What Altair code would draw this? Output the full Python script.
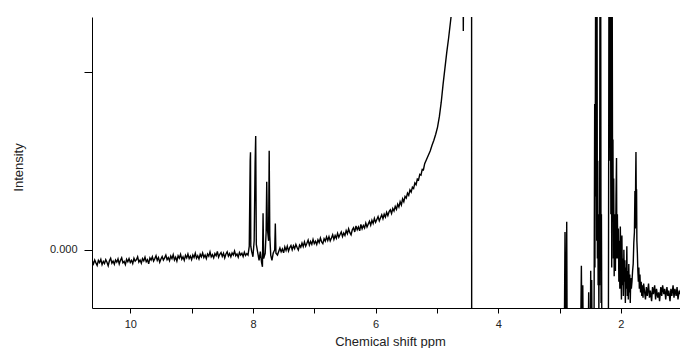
import altair as alt
import pandas as pd

# ---- data (ppm, intensity; 0 at the 0.000 tick, 1 at the upper tick) ----
left_ppm = [10.62, 10.60, 10.58, 10.56, 10.54, 10.52, 10.50, 10.48, 10.46, 10.44,
            10.42, 10.40, 10.38, 10.36, 10.34, 10.32, 10.30, 10.28, 10.26, 10.24,
            10.22, 10.20, 10.18, 10.16, 10.14, 10.12, 10.10, 10.08, 10.06, 10.04,
            10.02, 10.00, 9.98, 9.96, 9.94, 9.92, 9.90, 9.88, 9.86, 9.84,
            9.82, 9.80, 9.78, 9.76, 9.74, 9.72, 9.70, 9.68, 9.66, 9.64,
            9.62, 9.60, 9.58, 9.56, 9.54, 9.52, 9.50, 9.48, 9.46, 9.44,
            9.42, 9.40, 9.38, 9.36, 9.34, 9.32, 9.30, 9.28, 9.26, 9.24,
            9.22, 9.20, 9.18, 9.16, 9.14, 9.12, 9.10, 9.08, 9.06, 9.04,
            9.02, 9.00, 8.98, 8.96, 8.94, 8.92, 8.90, 8.88, 8.86, 8.84,
            8.82, 8.80, 8.78, 8.76, 8.74, 8.72, 8.70, 8.68, 8.66, 8.64,
            8.62, 8.60, 8.58, 8.56, 8.54, 8.52, 8.50, 8.48, 8.46, 8.44,
            8.42, 8.40, 8.38, 8.36, 8.34, 8.32, 8.30, 8.28, 8.26, 8.24,
            8.22, 8.20, 8.18, 8.16, 8.14, 8.12, 8.10, 8.08]
left_int = [-0.062, -0.080, -0.058, -0.074, -0.088, -0.060, -0.072, -0.054, -0.084, -0.066,
            -0.078, -0.056, -0.070, -0.090, -0.062, -0.048, -0.076, -0.064, -0.082, -0.058,
            -0.070, -0.052, -0.080, -0.060, -0.046, -0.074, -0.066, -0.084, -0.054, -0.068,
            -0.050, -0.072, -0.060, -0.078, -0.048, -0.064, -0.056, -0.040, -0.070, -0.058,
            -0.076, -0.050, -0.062, -0.042, -0.068, -0.056, -0.080, -0.046, -0.058, -0.040,
            -0.064, -0.050, -0.034, -0.060, -0.044, -0.070, -0.052, -0.038, -0.058, -0.046,
            -0.030, -0.056, -0.044, -0.062, -0.036, -0.050, -0.028, -0.058, -0.042, -0.064,
            -0.034, -0.048, -0.026, -0.054, -0.040, -0.060, -0.032, -0.046, -0.024, -0.050,
            -0.036, -0.056, -0.030, -0.044, -0.020, -0.048, -0.034, -0.052, -0.026, -0.040,
            -0.018, -0.044, -0.030, -0.050, -0.024, -0.036, -0.012, -0.040, -0.028, -0.046,
            -0.022, -0.034, -0.010, -0.042, -0.026, -0.016, -0.038, -0.020, -0.046, -0.024,
            -0.012, -0.036, -0.022, -0.040, -0.018, -0.030, -0.008, -0.034, -0.024, -0.042,
            -0.016, -0.030, -0.020, -0.038, -0.014, -0.032, -0.022, -0.030]

arom_ppm = [8.06, 8.045, 8.04, 8.035, 8.02, 8.00, 7.98, 7.965, 7.955, 7.945, 7.92, 7.90, 7.88,
            7.86, 7.845, 7.835, 7.825, 7.80, 7.785, 7.775, 7.765, 7.745, 7.735, 7.725, 7.71,
            7.69, 7.67, 7.645, 7.635, 7.625, 7.60, 7.58]
arom_int = [0.02, 0.50, 0.548, 0.02, -0.01, -0.04, 0.05, 0.48, 0.64, 0.03, -0.02, -0.06, -0.01,
            -0.07, -0.096, 0.205, -0.05, -0.02, 0.10, 0.383, 0.12, 0.05, 0.557, 0.08, -0.03,
            -0.06, -0.02, 0.00, 0.148, -0.02, -0.03, -0.01]

rise_ppm = [7.56, 7.54, 7.52, 7.50, 7.48, 7.46, 7.44, 7.42, 7.40, 7.38,
            7.36, 7.34, 7.32, 7.30, 7.28, 7.26, 7.24, 7.22, 7.20, 7.18,
            7.16, 7.14, 7.12, 7.10, 7.08, 7.06, 7.04, 7.02, 7.00, 6.98,
            6.96, 6.94, 6.92, 6.90, 6.88, 6.86, 6.84, 6.82, 6.80, 6.78,
            6.76, 6.74, 6.72, 6.70, 6.68, 6.66, 6.64, 6.62, 6.60, 6.58,
            6.56, 6.54, 6.52, 6.50, 6.48, 6.46, 6.44, 6.42, 6.40, 6.38,
            6.36, 6.34, 6.32, 6.30, 6.28, 6.26, 6.24, 6.22, 6.20, 6.18,
            6.16, 6.14, 6.12, 6.10, 6.08, 6.06, 6.04, 6.02, 6.00, 5.98,
            5.96, 5.94, 5.92, 5.90, 5.88, 5.86, 5.84, 5.82, 5.80, 5.78,
            5.76, 5.74, 5.72, 5.70, 5.68, 5.66, 5.64, 5.62, 5.60, 5.58,
            5.56, 5.54, 5.52, 5.50, 5.48, 5.46, 5.44, 5.42, 5.40, 5.38,
            5.36, 5.34, 5.32, 5.30, 5.28, 5.26, 5.24, 5.22, 5.20,
            5.17, 5.14, 5.11, 5.08, 5.05, 5.02, 4.99, 4.96, 4.93, 4.90,
            4.87, 4.84, 4.81, 4.78, 4.76, 4.74]
rise_int = [0.010, -0.012, 0.004, -0.018, 0.016, -0.004, 0.020, -0.008, 0.012, 0.024,
            0.000, 0.022, 0.006, 0.030, 0.012, -0.002, 0.026, 0.014, 0.038, 0.018,
            0.044, 0.020, 0.036, 0.054, 0.026, 0.046, 0.030, 0.058, 0.034, 0.048,
            0.030, 0.056, 0.040, 0.066, 0.044, 0.034, 0.062, 0.048, 0.072, 0.052,
            0.074, 0.050, 0.066, 0.084, 0.058, 0.080, 0.064, 0.092, 0.070, 0.086,
            0.100, 0.074, 0.094, 0.080, 0.108, 0.090, 0.118, 0.096, 0.084, 0.112,
            0.124, 0.100, 0.134, 0.112, 0.128, 0.106, 0.142, 0.118, 0.136, 0.122,
            0.150, 0.128, 0.144, 0.160, 0.138, 0.166, 0.148, 0.176, 0.154, 0.170,
            0.186, 0.162, 0.180, 0.196, 0.174, 0.200, 0.184, 0.210, 0.192, 0.214,
            0.224, 0.204, 0.232, 0.218, 0.244, 0.228, 0.256, 0.240, 0.270, 0.252,
            0.286, 0.270, 0.300, 0.290, 0.318, 0.306, 0.336, 0.324, 0.352, 0.344,
            0.376, 0.366, 0.398, 0.392, 0.424, 0.420, 0.452, 0.450, 0.484,
            0.508, 0.532, 0.556, 0.588, 0.616, 0.650, 0.690, 0.750, 0.830, 0.930,
            1.020, 1.110, 1.190, 1.280, 1.340, 1.500]

water_ppm = [4.60, 4.575, 4.570, 4.565, 4.45, 4.435, 4.433]
water_int = [1.60, 1.60, 1.231, 1.60, 1.60, 1.60, -1.20]

aliph_ppm = [2.925, 2.912, 2.905, 2.895, 2.884, 2.876, 2.66, 2.645, 2.635, 2.622, 2.612, 2.535,
             2.526, 2.517, 2.500, 2.493, 2.486, 2.477, 2.468, 2.440, 2.428, 2.424, 2.418, 2.412,
             2.406, 2.400, 2.395, 2.390, 2.384, 2.378, 2.372, 2.366, 2.360, 2.354, 2.348, 2.342,
             2.336, 2.330, 2.324, 2.318, 2.310, 2.205, 2.195, 2.188, 2.182, 2.176, 2.170, 2.164,
             2.158, 2.150, 2.143, 2.136, 2.130, 2.124, 2.118, 2.110, 2.100, 2.090, 2.080, 2.072,
             2.066, 2.058, 2.050, 2.042, 2.034, 2.026, 2.018, 2.010, 2.000, 1.992, 1.984, 1.976,
             1.968, 1.960, 1.952, 1.944, 1.936, 1.928, 1.920, 1.912, 1.904, 1.896, 1.888, 1.880,
             1.872, 1.864, 1.856, 1.848, 1.840, 1.830, 1.820, 1.810, 1.800, 1.790, 1.780, 1.772,
             1.765, 1.760, 1.755, 1.750, 1.745, 1.740, 1.732, 1.724, 1.716, 1.708, 1.700, 1.690,
             1.680, 1.670, 1.660, 1.650, 1.640, 1.630]
aliph_int = [-0.60, 0.10, -0.40, -0.40, 0.158, -0.60, -0.60, -0.09, -0.50, -0.20, -0.60, -0.60,
             -0.24, -0.60, -0.60, -0.118, -0.60, -0.17, -0.60, -0.60, 0.82, -0.10, 0.70, 1.60,
             0.30, 1.60, 0.05, 1.60, -0.05, 0.50, -0.20, 0.20, -0.35, 0.10, -0.20, 1.60,
             0.00, 1.60, -0.30, 0.20, -0.60, -0.60, 1.60, 0.74, 1.60, 0.50, 0.95, 0.20,
             1.60, -0.10, 1.60, 0.30, 0.62, -0.05, 0.40, -0.15, 0.20, -0.12, 0.30, 0.516,
             -0.05, 0.20, -0.05, 0.12, -0.18, 0.05, -0.22, 0.13, -0.10, -0.28, 0.08, -0.20,
             -0.05, -0.26, 0.00, -0.18, -0.06, -0.30, -0.10, -0.22, 0.02, -0.26, -0.12, -0.28,
             -0.08, -0.24, -0.14, -0.30, -0.16, -0.22, -0.18, -0.12, -0.08, 0.04, 0.10, 0.33,
             0.12, 0.40, 0.55, 0.30, 0.34, 0.05, -0.02, -0.12, -0.18, -0.10, -0.22, -0.14,
             -0.24, -0.18, -0.26, -0.20, -0.27, -0.19]

right_ppm = [1.620, 1.600, 1.585, 1.570, 1.550, 1.535, 1.520, 1.500, 1.485, 1.470, 1.450, 1.435,
             1.420, 1.400, 1.385, 1.370, 1.350, 1.335, 1.320, 1.300, 1.285, 1.270, 1.250, 1.235,
             1.220, 1.200, 1.185, 1.170, 1.150, 1.135, 1.120, 1.100, 1.085, 1.070, 1.050, 1.035,
             1.020, 1.000]
right_int = [-0.22, -0.28, -0.21, -0.26, -0.19, -0.27, -0.23, -0.29, -0.21, -0.25, -0.20, -0.28,
             -0.22, -0.27, -0.24, -0.29, -0.21, -0.26, -0.20, -0.25, -0.22, -0.28, -0.21, -0.26,
             -0.23, -0.29, -0.22, -0.26, -0.20, -0.27, -0.22, -0.26, -0.21, -0.28, -0.23, -0.25,
             -0.20, -0.27]

x_ticks = [2, 3, 4, 5, 6, 7, 8, 9, 10]
y_ticks = [0, 1]

ppm = left_ppm + arom_ppm + rise_ppm + water_ppm + aliph_ppm + right_ppm
inten = left_int + arom_int + rise_int + water_int + aliph_int + right_int
df = pd.DataFrame({"ppm": ppm, "intensity": inten, "i": list(range(len(ppm)))})

FONT = "Liberation Sans"

chart = alt.Chart(df).mark_line(color="black", strokeWidth=1.4, clip=True).encode(
    x=alt.X("ppm:Q",
            scale=alt.Scale(domain=[1.037, 10.624], reverse=True, nice=False, zero=False),
            axis=alt.Axis(values=x_ticks, labelExpr="datum.value % 2 == 0 ? datum.label : ''",
                          title="Chemical shift ppm", grid=False, tickSize=5, labelPadding=5,
                          labelFlush=False, labelOverlap=False,
                          titleX=298, titleY=37, titleBaseline="alphabetic", titleAlign="center")),
    y=alt.Y("intensity:Q",
            scale=alt.Scale(domain=[-0.328, 1.3095], nice=False, zero=False),
            axis=alt.Axis(values=y_ticks, labelExpr="datum.value == 0 ? '0.000' : ''",
                          title="Intensity", grid=False, tickSize=8, labelPadding=7,
                          labelOverlap=False,
                          titleX=-74, titleY=150, titleAngle=270, titleBaseline="middle",
                          titleAlign="center")),
    order=alt.Order("i:Q"),
).properties(
    width=588, height=291,
    autosize=alt.AutoSizeParams(type="none"),
    padding={"left": 84, "top": 9, "right": 0, "bottom": 40},
).configure_view(stroke=None).configure_axis(
    domainColor="black", tickColor="black", labelColor="#222", titleColor="#222",
    labelFont=FONT, titleFont=FONT, labelFontSize=11, titleFontSize=13,
    titleFontWeight="normal", domainWidth=1, tickWidth=1,
)

chart.save("out.html", embed_options={"renderer": "svg", "actions": False})
